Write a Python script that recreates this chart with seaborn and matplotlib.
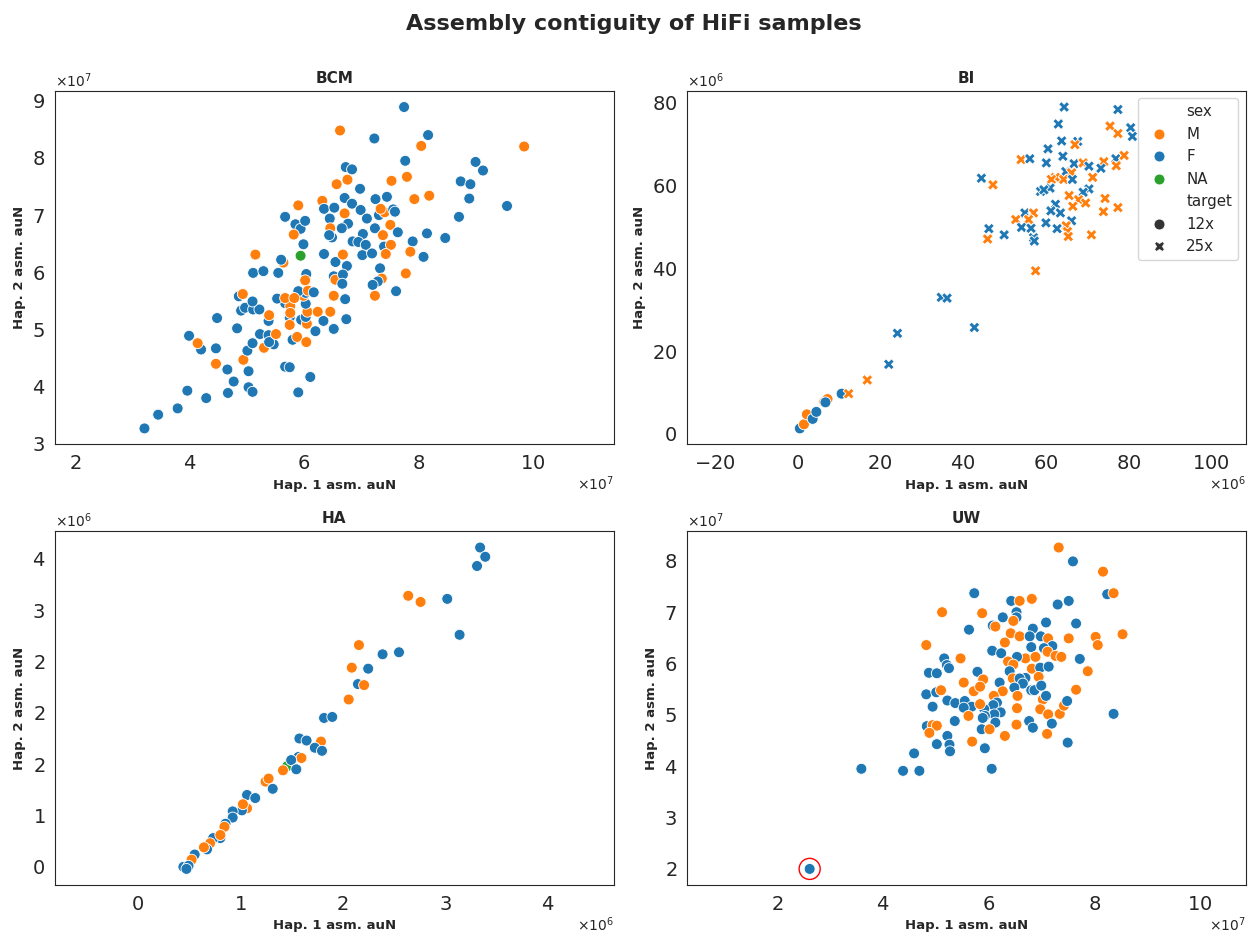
import numpy as np
import pandas as pd
import matplotlib
matplotlib.use("Agg")
import matplotlib.pyplot as plt
import matplotlib.ticker as mticker
import seaborn as sns

# ---------------------------------------------------------------------------
# Haplotype auN values per sequencing centre (BCM / BI / HA in Mb, UW in 1e7)
# ---------------------------------------------------------------------------
bcm_hap1 = [32.1, 34.5, 37.9, 39.6, 42.9, 46.7, 50.3, 51.0, 59.0, 61.1, 47.7, 46.6, 50.3, 44.6, 49.4,
            42.0, 44.6, 41.4, 39.9, 44.8, 48.3, 50.1, 51.0, 53.0, 52.3, 53.8, 54.7, 53.9, 55.1, 53.8,
            53.9, 56.7, 57.5, 58.0, 58.8, 60.4, 62.0, 57.5, 57.5, 59.5, 60.5, 60.3, 60.6, 60.3, 59.9,
            60.3, 59.0, 60.7, 61.7, 62.4, 63.4, 64.6, 65.2, 56.7, 57.6, 55.3, 56.7, 58.3, 57.6, 48.6,
            49.3, 49.0, 49.7, 51.1, 52.2, 51.0, 51.1, 52.9, 55.5, 51.5, 56.4, 56.0, 59.4, 60.4, 60.2,
            59.9, 63.5, 65.5, 65.2, 65.5, 65.2, 56.7, 59.0, 58.5, 59.4, 60.2, 58.2, 63.2, 63.5, 65.3,
            64.5, 64.6, 64.9, 64.4, 65.7,
            77.5, 66.3, 72.3, 81.7, 80.5, 98.5, 77.7, 90.0, 91.3, 67.3, 68.4, 67.6, 75.3, 78.0, 87.4,
            89.1, 69.8, 67.1, 68.4, 72.5, 74.5, 79.3, 81.9, 88.9, 95.5, 87.1, 69.9, 71.0, 67.1, 73.1,
            74.1, 75.6, 75.9, 73.4, 67.7, 66.6, 72.4, 75.1, 76.4, 73.8, 70.3, 79.0, 81.5, 84.7, 68.5,
            69.5, 70.8, 70.2, 71.9, 74.0, 75.2, 74.3, 78.6, 80.9, 66.8, 67.5, 66.8, 66.7, 73.3, 73.6,
            72.9, 72.0, 77.8, 76.1, 72.4, 67.2, 67.4]
bcm_hap2 = [32.7, 35.1, 36.2, 39.3, 38.0, 38.9, 39.9, 39.1, 39.0, 41.7, 40.9, 43.0, 42.7, 44.0, 44.7,
            46.5, 46.7, 47.6, 48.9, 52.0, 50.2, 46.3, 47.6, 46.8, 49.2, 49.0, 47.4, 47.8, 49.2, 51.5,
            52.5, 43.5, 43.4, 48.2, 48.7, 47.8, 49.7, 52.1, 50.8, 51.7, 51.0, 52.2, 53.1, 54.5, 55.9,
            56.4, 56.7, 56.8, 56.5, 53.1, 51.5, 53.1, 50.1, 54.6, 54.1, 55.4, 55.5, 55.5, 52.9, 55.8,
            56.2, 53.3, 53.8, 53.5, 53.5, 54.9, 59.9, 60.2, 59.9, 63.1, 61.7, 62.2, 62.9, 59.7, 58.6,
            64.9, 63.2, 61.8, 59.3, 58.7, 55.9, 69.7, 71.7, 68.4, 67.6, 69.0, 66.6, 72.5, 71.1, 71.3,
            69.4, 67.7, 66.1, 66.5, 75.4,
            88.9, 84.8, 83.4, 84.0, 82.1, 82.0, 79.5, 79.3, 77.8, 78.4, 78.0, 76.2, 76.0, 76.7, 75.9,
            75.4, 74.6, 73.0, 72.0, 72.8, 73.2, 72.8, 73.4, 72.9, 71.6, 69.7, 70.9, 69.4, 70.3, 70.0,
            70.5, 71.0, 70.6, 71.1, 68.5, 67.7, 67.7, 68.3, 67.0, 66.5, 66.7, 65.4, 66.8, 66.0, 65.4,
            65.3, 64.8, 63.0, 63.3, 64.5, 64.8, 63.2, 63.6, 62.7, 63.1, 61.1, 59.6, 58.0, 60.7, 58.9,
            58.4, 57.8, 59.8, 56.7, 55.9, 55.3, 51.8]
bcm_sex = ["F", "F", "F", "F", "F", "F", "F", "F", "F", "F", "F", "F", "F", "M", "M",
           "F", "F", "M", "F", "F", "F", "F", "F", "M", "F", "F", "F", "F", "M", "F",
           "M", "F", "F", "F", "M", "M", "F", "F", "M", "F", "M", "F", "M", "F", "M",
           "F", "F", "M", "F", "M", "F", "M", "F", "F", "M", "F", "M", "M", "M", "F",
           "M", "F", "F", "F", "F", "F", "F", "F", "F", "M", "M", "F", "NA", "F", "M",
           "F", "F", "F", "F", "M", "M", "F", "M", "F", "F", "F", "M", "M", "F", "F",
           "F", "M", "F", "F", "M",
           "F", "M", "F", "F", "M", "M", "F", "F", "F", "F", "F", "M", "M", "M", "F",
           "F", "F", "F", "F", "F", "F", "M", "M", "F", "F", "F", "F", "F", "M", "F",
           "M", "F", "F", "M", "F", "F", "F", "M", "F", "M", "F", "F", "F", "F", "F",
           "F", "F", "F", "F", "F", "M", "M", "M", "F", "M", "F", "F", "F", "F", "M",
           "F", "F", "M", "F", "M", "F", "F"]

bi_hap1 = [0.6, 1.6, 2.3, 3.7, 4.6, 6.5, 7.3, 6.8, 10.7,
           64.5, 77.5, 63.1, 75.6, 77.5, 80.6, 81.0, 63.9, 67.8, 67.1, 60.6, 64.2, 54.1, 56.2, 60.2,
           66.9, 69.1, 74.1, 77.0, 79.0, 77.1, 73.4, 70.5, 64.9, 66.3, 62.4, 61.4, 64.4, 66.5, 71.4,
           44.5, 47.3, 61.1, 58.8, 59.6, 70.5, 69.1, 65.7, 68.0, 69.7, 66.6, 74.4, 74.0, 77.5, 62.4,
           61.3, 63.6, 66.3, 55.0, 57.1, 52.8, 55.9, 60.1, 54.2, 56.5, 62.8, 65.0, 65.3, 65.5, 71.1,
           46.3, 46.0, 50.0, 57.1, 57.3, 57.6, 34.8, 36.2, 42.8, 24.2, 22.1, 16.9, 12.4]
bi_hap2 = [1.3, 2.3, 4.7, 3.6, 5.3, 7.7, 8.4, 7.6, 9.7,
           79.0, 78.4, 74.9, 74.4, 72.6, 74.0, 71.9, 70.8, 70.7, 69.9, 68.9, 67.1, 66.3, 66.5, 65.5,
           65.3, 65.5, 65.8, 66.5, 67.3, 64.8, 64.2, 64.7, 63.4, 63.1, 62.0, 61.5, 61.5, 61.5, 62.0,
           61.8, 60.2, 59.4, 58.6, 59.0, 59.2, 58.4, 57.6, 56.6, 55.8, 55.0, 56.9, 53.7, 54.7, 55.5,
           53.9, 53.4, 51.5, 53.4, 53.4, 51.8, 51.8, 51.0, 49.9, 49.7, 49.6, 50.3, 48.9, 47.7, 48.1,
           49.6, 47.1, 48.1, 47.4, 46.6, 39.4, 33.0, 32.8, 25.7, 24.3, 16.8, 13.0, 9.7]
bi_sex = ["F", "M", "M", "F", "F", "M", "M", "F", "F",
          "F", "F", "F", "M", "M", "F", "F", "F", "F", "M", "F", "F", "M", "F", "F",
          "F", "M", "M", "F", "M", "M", "F", "F", "F", "M", "M", "M", "M", "F", "M",
          "F", "M", "F", "F", "F", "F", "F", "M", "M", "M", "M", "M", "M", "M", "F",
          "F", "F", "F", "F", "M", "M", "M", "F", "F", "F", "F", "M", "M", "M", "M",
          "F", "M", "F", "F", "F", "M", "F", "F", "F", "F", "F", "M", "M"]
bi_target = ["12x"] * 9 + ["25x"] * 73

ha_hap1 = [1.46, 3.34, 3.39, 3.31, 2.64, 2.76, 3.02, 3.14, 2.16, 2.39, 2.55, 2.09, 2.25, 2.15, 2.21,
           2.06, 1.82, 1.90, 1.58, 1.65, 1.79, 1.73, 1.80, 1.57, 1.60, 1.50, 1.55, 1.42, 1.25,
           1.28, 1.32, 1.07, 1.15, 1.07, 1.02, 1.03, 0.93, 0.93, 0.86, 0.85, 0.81, 0.74, 0.81, 0.71,
           0.68, 0.65, 0.56, 0.53, 0.45, 0.50, 0.48]
ha_hap2 = [1.48, 3.61, 3.52, 3.43, 3.14, 3.08, 3.11, 2.76, 2.66, 2.57, 2.59, 2.44, 2.43, 2.28, 2.27,
           2.13, 1.95, 1.96, 1.75, 1.73, 1.72, 1.66, 1.63, 1.57, 1.56, 1.54, 1.45, 1.44, 1.33,
           1.36, 1.26, 1.20, 1.17, 1.07, 1.05, 1.11, 1.04, 0.98, 0.92, 0.89, 0.78, 0.78, 0.81, 0.73,
           0.67, 0.69, 0.62, 0.57, 0.50, 0.51, 0.48]
ha_sex = ["NA", "F", "F", "F", "M", "M", "F", "F", "M", "F", "F", "M", "F", "F", "M",
          "M", "F", "F", "F", "F", "M", "F", "F", "F", "M", "F", "F", "M", "M",
          "M", "F", "F", "F", "M", "F", "M", "F", "F", "F", "M", "F", "F", "M", "M",
          "F", "M", "F", "M", "F", "F", "F"]

uw_hap1 = [7.33, 7.60, 8.17, 8.25, 8.37, 5.73, 6.43, 6.59, 6.82, 7.31, 7.52, 5.12, 5.88, 6.27, 6.53,
           6.53, 6.47, 7.09, 7.66, 5.63, 6.08, 6.13, 6.84, 6.42, 6.59, 6.78, 6.99, 7.13, 7.21, 7.52,
           8.03, 8.07, 8.54, 4.82, 6.07, 6.31, 6.24, 6.81, 7.05, 5.16, 5.47, 5.21, 5.25, 6.70, 6.54,
           6.89, 7.12, 7.27, 7.38, 7.73, 6.37, 6.47, 6.82, 6.98, 7.14, 7.88, 4.87, 5.02, 5.79, 5.90,
           6.40, 6.70, 6.95, 5.53, 5.72, 5.84, 6.21, 6.46, 6.59, 6.65, 6.49, 6.27, 6.81, 6.87, 7.00,
           7.66, 4.82, 5.01, 5.10, 4.94, 5.22, 5.37, 5.55, 5.68, 5.53, 6.10, 6.16, 6.09, 5.92, 5.84,
           6.23, 6.11, 5.93, 5.89, 6.55, 6.54, 7.03, 7.09, 6.98, 7.13, 7.35, 7.43, 7.49, 7.20, 8.37,
           5.62, 5.36, 4.83, 4.94, 5.02, 4.88, 5.87, 6.13, 6.02, 6.53, 6.77, 6.84, 6.31, 7.11, 7.50,
           5.22, 5.02, 5.26, 5.27, 5.69, 5.93, 4.59, 4.38, 4.69, 6.06, 3.59, 2.61]
uw_hap2 = [8.26, 7.99, 7.79, 7.35, 7.37, 7.37, 7.22, 7.22, 7.26, 7.15, 7.22, 7.00, 6.98, 6.90, 7.00,
           6.90, 6.83, 6.80, 6.78, 6.66, 6.74, 6.72, 6.68, 6.59, 6.53, 6.53, 6.53, 6.49, 6.34, 6.49,
           6.52, 6.36, 6.57, 6.36, 6.25, 6.41, 6.20, 6.32, 6.30, 6.10, 6.10, 5.97, 5.91, 6.10, 6.13,
           6.13, 6.23, 6.15, 6.13, 6.09, 6.04, 5.98, 5.90, 5.92, 5.94, 5.85, 5.82, 5.81, 5.84, 5.69,
           5.85, 5.72, 5.74, 5.63, 5.46, 5.55, 5.63, 5.71, 5.71, 5.61, 5.53, 5.46, 5.48, 5.48, 5.57,
           5.49, 5.40, 5.44, 5.48, 5.16, 5.28, 5.23, 5.27, 5.16, 5.14, 5.37, 5.24, 5.19, 5.11, 5.21,
           5.05, 5.01, 4.98, 4.94, 5.37, 5.13, 5.30, 5.37, 5.11, 5.01, 5.02, 5.18, 5.27, 4.83, 5.02,
           4.98, 4.88, 4.78, 4.80, 4.79, 4.65, 4.72, 4.85, 4.72, 4.81, 4.88, 4.75, 4.59, 4.63, 4.46,
           4.59, 4.43, 4.42, 4.29, 4.48, 4.35, 4.25, 3.91, 3.91, 3.95, 3.95, 2.00]
uw_sex = ["M", "F", "M", "F", "M", "F", "F", "M", "M", "F", "F", "M", "M", "F", "F",
          "F", "M", "F", "F", "F", "F", "M", "F", "M", "M", "F", "F", "M", "F", "M",
          "M", "M", "M", "M", "F", "M", "F", "F", "F", "F", "M", "F", "F", "M", "F",
          "M", "M", "M", "M", "F", "M", "M", "M", "F", "F", "M", "F", "F", "F", "M",
          "F", "F", "M", "M", "M", "M", "F", "M", "F", "F", "F", "M", "F", "F", "F",
          "M", "F", "F", "M", "F", "F", "F", "F", "F", "F", "M", "F", "F", "F", "M",
          "F", "F", "F", "F", "M", "M", "M", "F", "M", "M", "M", "M", "F", "F", "F",
          "M", "F", "F", "M", "M", "M", "F", "F", "M", "M", "F", "F", "M", "M", "F",
          "F", "F", "F", "F", "M", "F", "F", "F", "F", "F", "F", "F"]

sex_order = ["M", "F", "NA"]
target_order = ["12x", "25x"]
palette = {"M": "#ff7f0e", "F": "#1f77b4", "NA": "#2ca02c"}

# name, hap1, hap2, sex, target, unit, exponent shown on the axes, aspect
panels = [
    ("BCM", bcm_hap1, bcm_hap2, bcm_sex, None, 1e6, 7, 1.0),
    ("BI", bi_hap1, bi_hap2, bi_sex, bi_target, 1e6, 6, 1.0),
    ("HA", ha_hap1, ha_hap2, ha_sex, None, 1e6, 6, 1.0),
    ("UW", uw_hap1, uw_hap2, uw_sex, None, 1e7, 7, 0.973),
]


class OOMFormatter(mticker.ScalarFormatter):
    """Scalar formatter with a fixed order of magnitude and number format."""

    def __init__(self, order=0, fformat="%1.0f"):
        self.oom = order
        self.fformat = fformat
        super().__init__(useOffset=True, useMathText=True)

    def _set_order_of_magnitude(self):
        self.orderOfMagnitude = self.oom

    def _set_format(self):
        self.format = self.fformat
        if self._useMathText:
            self.format = r"$\mathdefault{%s}$" % self.format


sns.set_style("white")
plt.rcParams.update({
    "font.family": ["DejaVu Sans"],
    "axes.formatter.use_mathtext": True,
    "xtick.labelsize": 10,
    "ytick.labelsize": 10,
})

fig, axes = plt.subplots(2, 2, figsize=(12.48, 9.34), dpi=100)
fig.subplots_adjust(left=0.044, right=0.998, top=0.9026, bottom=0.0525,
                    wspace=0.1306, hspace=0.246)

for ax, (name, h1, h2, sex, target, unit, oom, aspect) in zip(axes.flat, panels):
    df = pd.DataFrame({
        "hap1": np.asarray(h1) * unit,
        "hap2": np.asarray(h2) * unit,
        "sex": sex,
        "target": target if target is not None else ["12x"] * len(h1),
    })
    sns.scatterplot(data=df, x="hap1", y="hap2", hue="sex", hue_order=sex_order,
                    style="target", style_order=target_order, palette=palette,
                    s=62, ax=ax, legend=(name == "BI"))
    ax.set_aspect(aspect, adjustable="datalim")
    ax.xaxis.set_major_formatter(OOMFormatter(oom))
    ax.yaxis.set_major_formatter(OOMFormatter(oom))
    ax.xaxis.OFFSETTEXTPAD = 1.2
    ax.tick_params(labelsize=14)
    ax.set_title(name, fontsize=11, fontweight="bold")
    ax.set_xlabel("Hap. 1 asm. auN", fontsize=9.5, fontweight="bold")
    ax.set_ylabel("Hap. 2 asm. auN", fontsize=9.5, fontweight="bold")
    if name == "BI":
        ax.yaxis.set_major_locator(mticker.MultipleLocator(20e6))
        sns.move_legend(ax, "upper right", fontsize=10.8)
    if name == "UW":
        # highlight the sample with the smallest haplotype-1 auN
        i = int(np.argmin(df["hap1"].values))
        ax.scatter(df["hap1"].iloc[i], df["hap2"].iloc[i], s=230,
                   facecolors="none", edgecolors="red", linewidths=1, zorder=5)

fig.suptitle("Assembly contiguity of HiFi samples", fontsize=16, fontweight="bold",
             x=0.5076, y=0.985)
fig.savefig("out.png", dpi=100)
